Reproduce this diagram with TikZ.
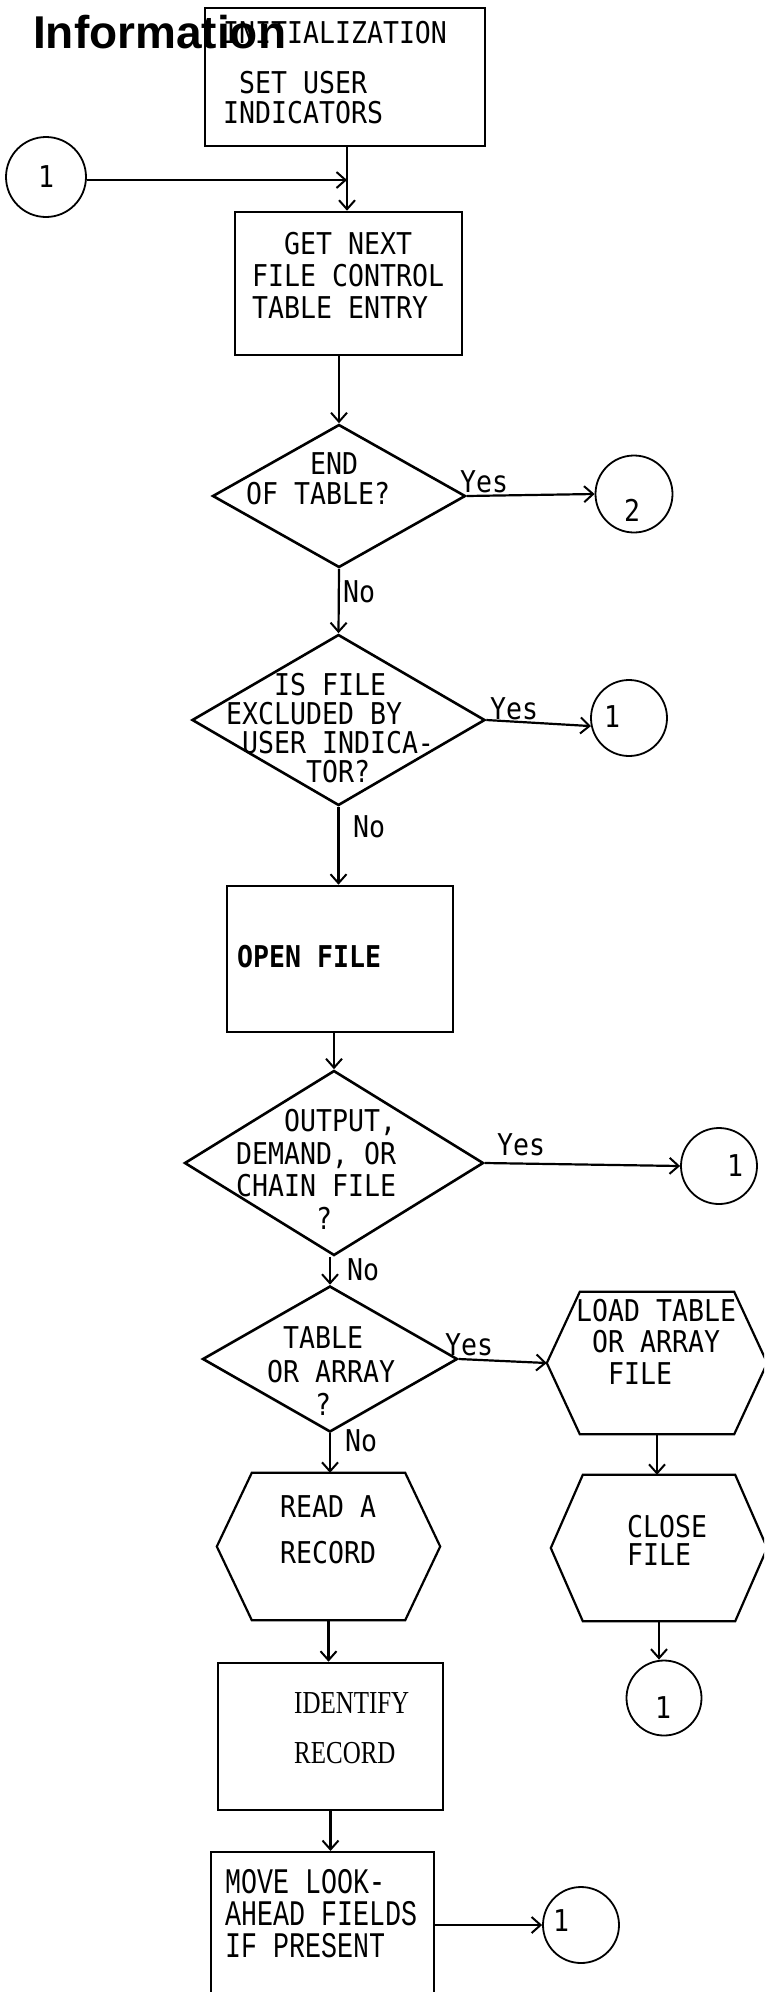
\documentclass[tikz,border=0pt]{standalone}
\usepackage{fontspec}
\newfontfamily\twfont[FakeStretch=0.885]{DejaVu Sans Mono}
\newfontfamily\twsfont[FakeStretch=0.74]{Liberation Mono}
\newfontfamily\hdfont{Liberation Sans}
\newfontfamily\serfont[FakeStretch=0.78]{Liberation Serif}
\usetikzlibrary{shapes.geometric,arrows.meta}
\tikzset{
  box/.style={draw, rectangle, line width=2.6pt, inner sep=0pt},
  hexbox/.style={draw=none, rectangle, inner sep=0pt},
  hexline/.style={line width=2.2pt, line join=miter},
  dia/.style={draw, diamond, line width=2.6pt, inner sep=0pt},
  conn/.style={draw, circle, line width=1.8pt, inner sep=0pt, minimum size=76pt},
  txt/.style={inner sep=0pt, font=\twfont\fontsize{30}{32}\selectfont},
  arr/.style={line width=2.2pt, -{Straight Barb[length=9pt,width=16pt,line width=2pt]}},
}
\begin{document}
\begin{tikzpicture}[x=1pt,y=-1pt]
\useasboundingbox (0,0) rectangle (764,1992);
\clip (0,0) rectangle (764,1992);
\fill[white] (0,0) rectangle (764,1992);

% initialization
\node[box, minimum width=280pt, minimum height=138pt] (init) at (345,77) {};
\node[txt, anchor=west] (initA) at (223,33) {INITIALIZATION};
\node[txt, anchor=west, align=left, font=\twfont\fontsize{30}{30}\selectfont] (initB) at (223,98) {\hphantom{X}SET USER\\INDICATORS};
\node[inner sep=0pt, anchor=base west, font=\hdfont\bfseries\fontsize{46}{50}\selectfont] (title) at (33,48) {Information};

% connector 1 into loop
\node[conn, minimum size=80pt] (c1a) at (46,177) {};
\node[txt] (c1aL) at (46,177) {1};

% get next
\node[box, minimum width=227pt, minimum height=143pt] (get) at (348.5,283.5) {};
\node[txt, anchor=west, align=left] (getT) at (252,275) {\hphantom{XX}GET NEXT\\FILE CONTROL\\TABLE ENTRY};
\coordinate (j1) at (347,180);
\draw[line width=2.2pt] (init.south -| j1) -- (j1);
\draw[arr] (j1) -- (j1 |- get.north);
\draw[arr] (c1a.east |- j1) -- (j1);

% end of table
\node[dia, minimum width=253pt, minimum height=143pt] (d1) at (339,496) {};
\node[txt, anchor=west, align=left, font=\twfont\fontsize{30}{30}\selectfont] (d1T) at (246,479) {\hphantom{XXXX}END\\OF TABLE?};
\draw[arr] (d1.north |- get.south) -- (d1.north);
\node[conn, minimum size=77pt] (c2) at (634,494) {};
\node[txt] (c2L) at (632,510) {2};
\draw[arr] (d1.east) -- (c2.west);
\node[txt, anchor=west] (y1) at (460,482) {Yes};
\node[txt, anchor=west] (n1) at (343,592) {No};

% excluded
\node[dia, minimum width=293pt, minimum height=171pt] (d2) at (338.5,720) {};
\node[txt, anchor=west, align=left, font=\twfont\fontsize{30}{29}\selectfont] (d2T) at (226,728.5) {\hphantom{XXX}IS FILE\\EXCLUDED BY\\\hphantom{X}USER INDICA-\\\hphantom{XXXXX}TOR?};
\draw[arr] (d1.south) -- (d2.north);
\node[conn] (c3) at (629,718) {};
\node[txt] (c3L) at (612,717) {1};
\draw[arr] (d2.east) -- (c3.192);
\node[txt, anchor=west] (y2) at (490,709) {Yes};
\node[txt, anchor=west] (n2) at (353,827) {No};

% open file
\node[box, minimum width=226pt, minimum height=146pt] (open) at (340,959) {};
\node[txt, anchor=west, font=\twfont\bfseries\fontsize{30}{32}\selectfont] (openT) at (237,957) {OPEN FILE};
\draw[arr] (d2.south) -- (d2.south |- open.north);

% output demand chain
\node[dia, minimum width=299pt, minimum height=185pt] (d3) at (334,1163) {};
\node[txt, anchor=west, align=left, font=\twfont\fontsize{30}{32.5}\selectfont] (d3T) at (236,1169.5) {\hphantom{XXX}OUTPUT,\\DEMAND, OR\\CHAIN FILE\\\hphantom{XXXXX}?};
\draw[arr] (d3.north |- open.south) -- (d3.north);
\node[conn] (c4) at (719,1166) {};
\node[txt] (c4L) at (735,1166) {1};
\draw[arr] (d3.east) -- (c4.west);
\node[txt, anchor=west] (y3) at (497,1145) {Yes};
\node[txt, anchor=west] (n3) at (347,1270) {No};

% table or array
\node[dia, minimum width=255pt, minimum height=146pt] (d4) at (330,1359) {};
\node[txt, anchor=west, align=left, font=\twfont\fontsize{30}{33.5}\selectfont] (d4T) at (267,1371.5) {\hphantom{X}TABLE\\OR ARRAY\\\hphantom{XXX}?};
\draw[arr] (d4.north |- d3.south) -- (d4.north);
\node[txt, anchor=west] (y4) at (445,1345) {Yes};
\node[txt, anchor=west] (n4) at (345,1441) {No};

% load table
\node[hexbox, minimum width=220pt, minimum height=142pt] (load) at (657,1363) {};
\draw[hexline] (load.west) -- ([xshift=33pt]load.north west) -- ([xshift=-33pt]load.north east) -- (load.east) -- ([xshift=-33pt]load.south east) -- ([xshift=33pt]load.south west) -- cycle;
\node[txt, anchor=west, align=left, font=\twfont\fontsize{30}{31.5}\selectfont] (loadT) at (576,1341.5) {LOAD TABLE\\\hphantom{X}OR ARRAY\\\hphantom{XX}FILE};
\draw[arr] (d4.east) -- (load.west);

% close file
\node[hexbox, minimum width=216pt, minimum height=146pt] (close) at (659,1548) {};
\draw[hexline] (close.west) -- ([xshift=32pt]close.north west) -- ([xshift=-32pt]close.north east) -- (close.east) -- ([xshift=-32pt]close.south east) -- ([xshift=32pt]close.south west) -- cycle;
\node[txt, anchor=west, align=left, font=\twfont\fontsize{30}{28}\selectfont] (closeT) at (627,1540) {CLOSE\\FILE};
\draw[arr] (load.south) -- (load.south |- close.north);
\node[conn, minimum size=75pt] (c5) at (664,1698) {};
\node[txt] (c5L) at (663,1708) {1};
\draw[arr] (close.south) -- (close.south |- c5.north);

% read a record
\node[hexbox, minimum width=223pt, minimum height=147pt] (read) at (328.5,1546.5) {};
\draw[hexline] (read.west) -- ([xshift=35pt]read.north west) -- ([xshift=-35pt]read.north east) -- (read.east) -- ([xshift=-35pt]read.south east) -- ([xshift=35pt]read.south west) -- cycle;
\node[txt, anchor=west, align=left, font=\twfont\fontsize{30}{46}\selectfont] (readT) at (280,1530) {READ A\\RECORD};
\draw[arr] (d4.south) -- (d4.south |- read.north);

% identify record
\node[box, minimum width=225pt, minimum height=147pt] (ident) at (330.5,1736.5) {};
\node[inner sep=0pt, anchor=west, align=left, font=\serfont\fontsize{32}{50}\selectfont] (identT) at (294,1728) {IDENTIFY\\RECORD};
\draw[arr] (read.south) -- (read.south |- ident.north);

% move look-ahead
\node[box, line width=2pt, minimum width=223pt, minimum height=200pt] (move) at (322.5,1952) {};
\node[inner sep=0pt, anchor=west, align=left, font=\twsfont\fontsize{36}{32}\selectfont] (moveT) at (225,1914) {MOVE LOOK-\\AHEAD FIELDS\\IF PRESENT};
\draw[arr] (ident.south) -- (ident.south |- move.north);
\node[conn] (c6) at (581,1925) {};
\node[txt] (c6L) at (561,1921) {1};
\draw[arr] (move.east |- c6.west) -- (c6.west);
\end{tikzpicture}
\end{document}
